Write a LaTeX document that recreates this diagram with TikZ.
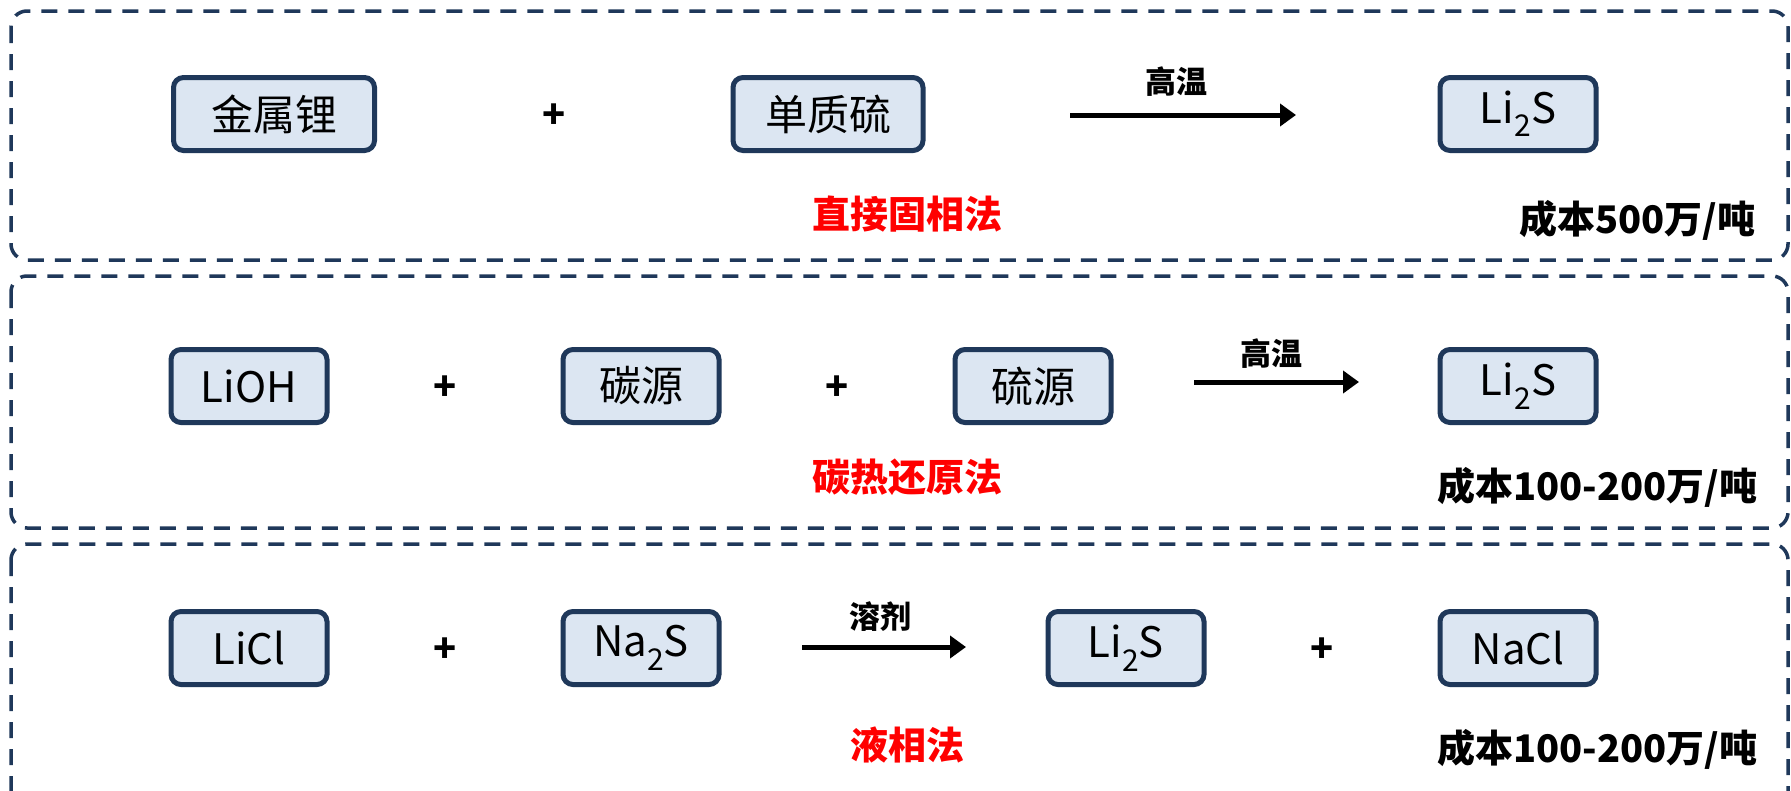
\documentclass[tikz,border=0pt]{standalone}
\usepackage{fontspec}
\setmainfont{Noto Sans CJK SC}
\usetikzlibrary{arrows.meta}
\definecolor{navy}{RGB}{31,56,90}
\definecolor{boxfill}{RGB}{220,230,242}
\newcommand{\subtwo}{\raisebox{-0.32em}{\fontsize{30}{32}\selectfont 2}}
\begin{document}
\begin{tikzpicture}[x=1pt,y=-1pt,
 panel/.style={draw=navy, line width=3.5pt, dash pattern=on 16pt off 11pt, rounded corners=16pt},
 chem/.style={draw=navy, fill=boxfill, line width=5pt, rounded corners=10pt, minimum height=73pt, minimum width=156pt, inner sep=0pt, font=\fontsize{42}{48}\selectfont},
 plus/.style={font=\bfseries\fontsize{38}{40}\selectfont},
 cond/.style={font=\bfseries\fontsize{31}{34}\selectfont},
 method/.style={text=red, font=\bfseries\fontsize{38}{42}\selectfont},
 cost/.style={anchor=east, font=\bfseries\fontsize{38}{42}\selectfont},
 rx/.style={line width=5pt, -{Triangle[length=16pt,width=22pt]}}
]
\useasboundingbox (0,0) rectangle (1791,790);
\fill[white] (0,0) rectangle (1791,790);
% panels
\draw[panel] (11,11) rectangle (1788,260);
\draw[panel] (11,276) rectangle (1788,528);
\draw[panel] (11,544) rectangle (1788,812);

% row 1
\node[chem, minimum width=201pt] (li) at (274,114) {金属锂};
\node[plus] (p11) at (554,116) {+};
\node[chem, minimum width=190pt] (s) at (828,114) {单质硫};
\coordinate (a1s) at (1070,115);
\coordinate (a1e) at (1296,115);
\draw[rx] (a1s) -- (a1e);
\node[cond] (c1) at (1176,82) {高温};
\node[chem] (p1) at (1518,114) {Li\subtwo S};
\node[method] (m1) at (907,214) {直接固相法};
\node[cost] (k1) at (1759,220) {成本500万/吨};

% row 2
\node[chem] (lioh) at (249,386) {LiOH};
\node[plus] (p21) at (445,388) {+};
\node[chem] (cs) at (641,386) {碳源};
\node[plus] (p22) at (837,388) {+};
\node[chem] (ss) at (1033,386) {硫源};
\coordinate (a2s) at (1194,382);
\coordinate (a2e) at (1359,382);
\draw[rx] (a2s) -- (a2e);
\node[cond] (c2) at (1271,354) {高温};
\node[chem] (p2) at (1518,386) {Li\subtwo S};
\node[method] (m2) at (907,477) {碳热还原法};
\node[cost] (k2) at (1761,487) {成本100-200万/吨};

% row 3
\node[chem] (licl) at (249,648) {LiCl};
\node[plus] (p31) at (445,650) {+};
\node[chem] (nas) at (641,648) {Na\subtwo S};
\coordinate (a3s) at (802,647);
\coordinate (a3e) at (966,647);
\draw[rx] (a3s) -- (a3e);
\node[cond] (c3) at (880,617) {溶剂};
\node[chem] (p3) at (1126,648) {Li\subtwo S};
\node[plus] (p32) at (1322,650) {+};
\node[chem] (nacl) at (1518,648) {NaCl};
\node[method] (m3) at (907,745) {液相法};
\node[cost] (k3) at (1761,749) {成本100-200万/吨};
\end{tikzpicture}
\end{document}
